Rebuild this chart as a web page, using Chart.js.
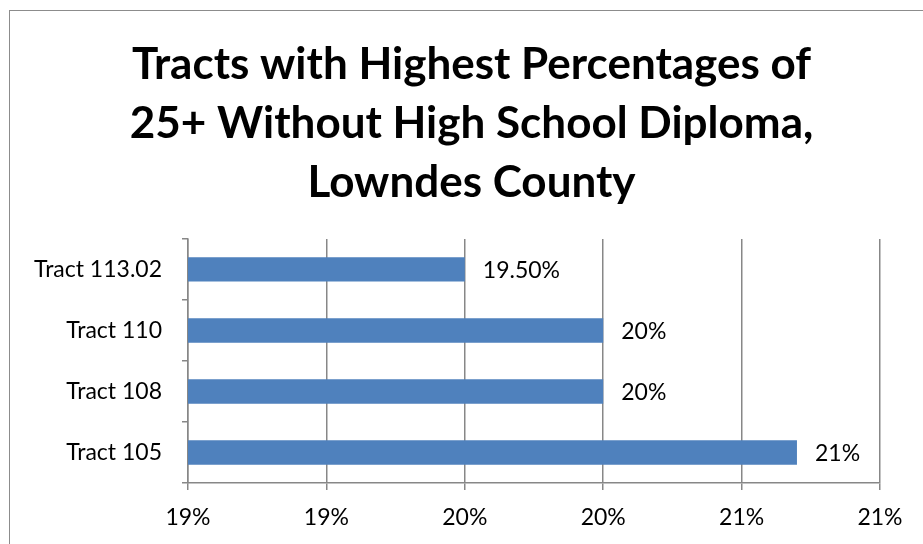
<!DOCTYPE html>
<html>
<head>
<meta charset="utf-8">
<script src="https://cdn.jsdelivr.net/npm/chart.js@4.4.0/dist/chart.umd.min.js"></script>
<style>
  body { margin: 0; background: #fff; }
  .wrap { position: relative; width: 923px; height: 544px; overflow: hidden; }
  .frame { position: absolute; left: 9px; top: 10px; width: 940px; height: 560px; border: 1.5px solid #8c8c8c; }
  canvas { position: absolute; left: 0; top: 0; }
</style>
</head>
<body>
<div class="wrap">
  <div class="frame"></div>
  <canvas id="tractChart" width="923" height="544"></canvas>
</div>
<script>
const tracts = ['Tract 113.02', 'Tract 110', 'Tract 108', 'Tract 105'];
const pctValues = [19.5, 20.0, 20.0, 20.7];
const labelDecimals = [2, 0, 0, 0];
const axisMin = 18.5;
const axisMax = 21.0;
const axisStep = 0.5;

const fontFamily = 'Lato, "Open Sans", sans-serif';

// value labels at the end of each bar
const barLabels = {
  id: 'barLabels',
  afterDatasetsDraw(chart) {
    const ctx = chart.ctx;
    const meta = chart.getDatasetMeta(0);
    ctx.save();
    ctx.font = '23px ' + fontFamily;
    ctx.fillStyle = '#000';
    ctx.textAlign = 'left';
    ctx.textBaseline = 'middle';
    meta.data.forEach((bar, i) => {
      const txt = pctValues[i].toFixed(labelDecimals[i]) + '%';
      ctx.fillText(txt, bar.x + 18, bar.y + 1);
    });
    ctx.restore();
  }
};

new Chart(document.getElementById('tractChart'), {
  type: 'bar',
  data: {
    labels: tracts,
    datasets: [{
      data: pctValues,
      backgroundColor: '#4F81BD',
      borderWidth: 0,
      barPercentage: 0.4,
      categoryPercentage: 1
    }]
  },
  options: {
    indexAxis: 'y',
    responsive: false,
    animation: false,
    layout: { padding: { left: 20, right: 0, top: 0, bottom: 0 } },
    plugins: {
      legend: { display: false },
      tooltip: { enabled: false },
      title: {
        display: true,
        text: ['Tracts with Highest Percentages of', '25+ Without High School Diploma,', 'Lowndes County'],
        color: '#000',
        font: { family: fontFamily, size: 44, weight: 'bold', lineHeight: 1.34 },
        padding: { top: 35, bottom: 27 }
      }
    },
    scales: {
      x: {
        min: axisMin,
        max: axisMax,
        afterFit(scale) {
          scale.height = 61;
          scale.paddingRight = 43;
        },
        ticks: {
          stepSize: axisStep,
          color: '#000',
          font: { family: fontFamily, size: 23 },
          padding: 14,
          callback: v => Math.round(v + 1e-9) + '%'
        },
        grid: { color: '#878787', lineWidth: 1.5, tickLength: 7 },
        border: { color: '#878787', width: 1.5 }
      },
      y: {
        afterFit(scale) { scale.width = 168; },
        ticks: {
          color: '#000',
          font: { family: fontFamily, size: 23 },
          padding: 20
        },
        grid: { offset: true, drawOnChartArea: false, color: '#878787', lineWidth: 1.5, tickLength: 6 },
        border: { color: '#878787', width: 1.5 }
      }
    }
  },
  plugins: [barLabels]
});
</script>
</body>
</html>
